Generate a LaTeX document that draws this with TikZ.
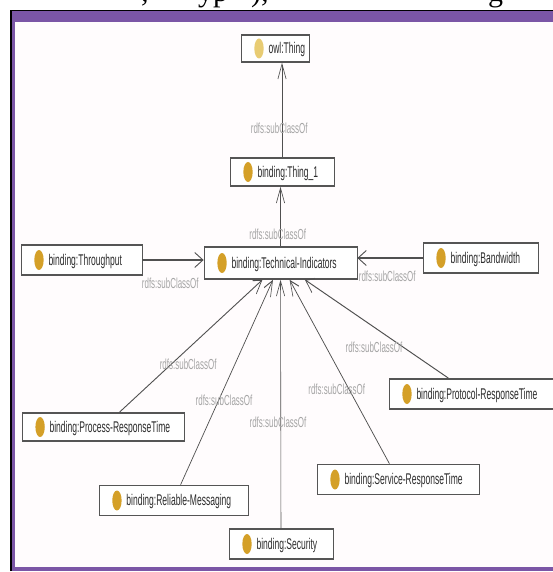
\documentclass[tikz,border=0pt]{standalone}
\usepackage{fontspec}
\setmainfont{Liberation Sans}
\newfontfamily\capfont{Liberation Serif}
\usetikzlibrary{arrows.meta}

\definecolor{framepurple}{RGB}{123,86,166}
\definecolor{paneltint}{RGB}{255,252,253}
\definecolor{icongold}{RGB}{212,160,40}
\definecolor{iconpale}{RGB}{232,204,115}
\definecolor{edgegray}{RGB}{80,80,80}
\definecolor{labelgray}{RGB}{165,165,165}
\definecolor{boxline}{RGB}{85,85,85}
\definecolor{textdark}{RGB}{45,45,45}

% class box content: fixed width, text after the icon gap
\newcommand\clsbox[2]{\hbox to #1{\hskip 50pt #2\hfil}}

\tikzset{
  cls/.style={draw=boxline, line width=1.6pt, fill=white,
    inner xsep=0pt, inner ysep=0pt, minimum height=30pt,
    text height=11pt, text depth=1pt,
    font=\fontsize{15.5}{18}\selectfont, text=textdark,
    path picture={\fill[#1] ([xshift=32.7pt]path picture bounding box.west)
      ellipse (8.5pt and 10pt);}},
  cls/.default=icongold,
  sub/.style={draw=edgegray, line width=1.1pt,
    -{Straight Barb[length=15pt,width=15pt,line width=1.1pt]}},
  lbl/.style={text=labelgray, font=\fontsize{14.5}{17}\selectfont,
    inner sep=0pt, midway, yshift=-18pt, xshift=-5pt},
  capglyph/.style={anchor=base west, inner sep=0pt,
    font=\capfont\fontsize{30}{30}\selectfont}
}

\begin{document}
\begin{tikzpicture}[x=1pt, y=-1pt]
  \useasboundingbox (0,0) rectangle (553,572);
  \fill[white] (0,0) rectangle (553,572);

  % descenders of the caption line above the panel
  \begin{scope}
    \clip (0,0) rectangle (553,10);
    \node[capglyph] (g1) at (141,1.5) {,};
    \node[capglyph] (g2) at (198,1.5) {yp};
    \node[capglyph] (g3) at (251,1.5) {),};
    \node[capglyph] (g4) at (488,1.5) {g};
  \end{scope}

  % panel frame
  \fill[framepurple] (10,10) rectangle (553,571);
  \fill[paneltint] (15,22) rectangle (553,567);
  \draw[black, line width=1.5pt] (10.75,571) -- (10.75,10.75) -- (553,10.75);

  % class graph, drawn at full width and narrowed horizontally
  \begin{scope}[transform canvas={xscale=0.55}, x=1.818182pt, y=-1pt]
    \node[cls=iconpale, minimum height=27pt] (owl) at (275,48.5) {\clsbox{123.6pt}{owl:Thing}};
    \node[cls, minimum height=28pt] (thing1) at (282,172) {\clsbox{189pt}{binding:Thing\_1}};
    \node[cls, minimum height=32pt] (tech) at (280.5,263) {\clsbox{278pt}{binding:Technical-Indicators}};
    \node[cls] (thru) at (81.5,260) {\clsbox{220pt}{binding:Throughput}};
    \node[cls] (band) at (480.5,258) {\clsbox{209pt}{binding:Bandwidth}};
    \node[cls, minimum height=28pt] (proc) at (103.5,427) {\clsbox{296pt}{binding:Process-ResponseTime}};
    \node[cls] (rel) at (173.5,500.5) {\clsbox{271pt}{binding:Reliable-Messaging}};
    \node[cls] (sec) at (281,544) {\clsbox{189pt}{binding:Security}};
    \node[cls] (serv) at (398,479.5) {\clsbox{294.5pt}{binding:Service-ResponseTime}};
    \node[cls] (prot) at (471.5,394) {\clsbox{300pt}{binding:Protocol-ResponseTime}};

    \draw[sub] (thing1.north) -- (thing1.north |- owl.south) node[lbl] {rdfs:subClassOf};
    \draw[sub] (tech.north) -- (tech.north |- thing1.south) node[lbl] {rdfs:subClassOf};
    \draw[sub] (thru.east) -- (thru.east -| tech.west) node[lbl, yshift=-5pt] {rdfs:subClassOf};
    \draw[sub] (band.west) -- (band.west -| tech.east) node[lbl] {rdfs:subClassOf};
    \draw[sub] (proc) -- (tech) node[lbl] {rdfs:subClassOf};
    \draw[sub] (rel) -- (tech) node[lbl] {rdfs:subClassOf};
    \draw[sub] (sec) -- (tech) node[lbl] {rdfs:subClassOf};
    \draw[sub] (serv) -- (tech) node[lbl] {rdfs:subClassOf};
    \draw[sub] (prot) -- (tech) node[lbl] {rdfs:subClassOf};
  \end{scope}
\end{tikzpicture}
\end{document}
